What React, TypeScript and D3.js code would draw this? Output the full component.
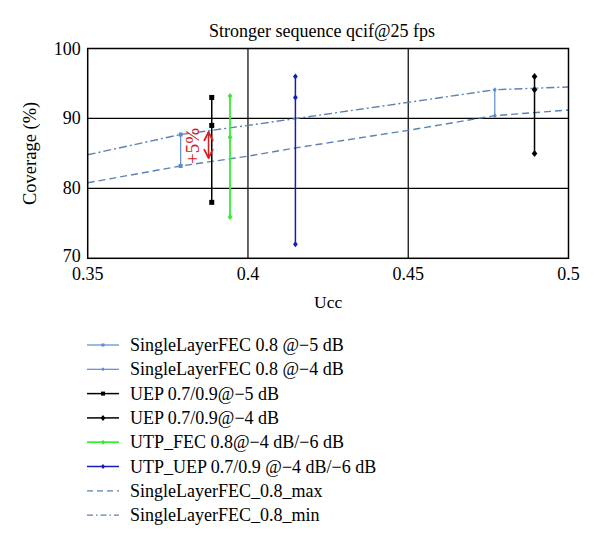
import React from "react";
import * as d3 from "d3";

const xTicks = [0.35, 0.4, 0.45, 0.5];
const yTicks = [70, 80, 90, 100];
const xTickLabels = ["0.35", "0.4", "0.45", "0.5"];

const slf5X = 0.379;
const slf5Y = [87.7, 83.2];
const slf4X = 0.477;
const slf4Y = [94.1, 90.4];
const uep5X = 0.3887;
const uep5Y = [93.0, 89.0, 78.0];
const uep4X = 0.4894;
const uep4Y = [96.0, 94.1, 85.0];
const utpFecX = 0.3944;
const utpFecY = [93.2, 87.3, 75.9];
const utpUepX = 0.4148;
const utpUepY = [96.0, 93.0, 72.0];

const maxX = [0.35, 0.379, 0.4, 0.415, 0.45, 0.477, 0.5];
const maxY = [80.8, 83.2, 84.6, 85.8, 88.3, 90.4, 91.2];
const minX = [0.35, 0.379, 0.4, 0.45, 0.477, 0.5];
const minY = [84.8, 87.7, 89.0, 92.3, 94.1, 94.5];

const arrowX = 0.3877;
const arrowY = [88.2, 84.2];

const legendLabels = [
  "SingleLayerFEC 0.8 @\u22125 dB",
  "SingleLayerFEC 0.8 @\u22124 dB",
  "UEP 0.7/0.9@\u22125 dB",
  "UEP 0.7/0.9@\u22124 dB",
  "UTP_FEC 0.8@\u22124 dB/\u22126 dB",
  "UTP_UEP 0.7/0.9 @\u22124 dB/\u22126 dB",
  "SingleLayerFEC_0.8_max",
  "SingleLayerFEC_0.8_min",
];

const LB = "#5b8bc9";
const DL = "#5a82b4";
const GR = "#33ee33";
const BL = "#1a1ab8";
const FONT = "'Liberation Serif', 'DejaVu Serif', serif";

type Marker = "square" | "diamond" | "dot";

export default function App() {
  const W = 600, H = 547;
  const L = 87.7, R = 568.5, T = 48.5, B = 258.3;
  const x = d3.scaleLinear().domain([0.35, 0.5]).range([L, R]);
  const y = d3.scaleLinear().domain([70, 100]).range([B, T]);
  const line = d3.line<[number, number]>().x((d) => x(d[0])).y((d) => y(d[1]));

  const series: { xv: number; ys: number[]; color: string; marker: Marker; size: number; w: number }[] = [
    { xv: slf5X, ys: slf5Y, color: LB, marker: "square", size: 4, w: 1.2 },
    { xv: slf4X, ys: slf4Y, color: LB, marker: "diamond", size: 4, w: 1.2 },
    { xv: uep5X, ys: uep5Y, color: "#000", marker: "square", size: 5, w: 1.5 },
    { xv: uep4X, ys: uep4Y, color: "#000", marker: "diamond", size: 6, w: 1.5 },
    { xv: utpFecX, ys: utpFecY, color: GR, marker: "diamond", size: 5, w: 1.8 },
    { xv: utpUepX, ys: utpUepY, color: BL, marker: "diamond", size: 5, w: 1.5 },
  ];

  const drawMarker = (m: Marker, cx: number, cy: number, s: number, c: string, k: string) => {
    if (m === "square")
      return <rect key={k} x={cx - s / 2} y={cy - s / 2} width={s} height={s} fill={c} />;
    if (m === "diamond") {
      const h = s / 2 + 0.5;
      return <path key={k} d={`M${cx},${cy - h}L${cx + h * 0.8},${cy}L${cx},${cy + h}L${cx - h * 0.8},${cy}Z`} fill={c} />;
    }
    return <circle key={k} cx={cx} cy={cy} r={s / 2} fill={c} />;
  };

  const legendX0 = 87, legendX1 = 119, legendTextX = 130, legendY0 = 345, legendDy = 24.3;

  return (
    <svg width={W} height={H} style={{ display: "block", position: "absolute", left: 0, top: 0, background: "#fff" }} fontFamily={FONT}>
      <rect x={0} y={0} width={W} height={H} fill="#fff" />
      <defs>
        <clipPath id="plot">
          <rect x={L} y={T} width={R - L} height={B - T} />
        </clipPath>
        <marker id="ah" viewBox="0 0 10 10" refX="9" refY="5" markerWidth="7" markerHeight="7" orient="auto-start-reverse">
          <path d="M1,1L9,5L1,9" fill="none" stroke="#d42020" strokeWidth={1.6} />
        </marker>
      </defs>
      <text x={322} y={37} textAnchor="middle" fontSize={18}>Stronger sequence qcif@25 fps</text>

      {/* grid */}
      {xTicks.slice(1, -1).map((t) => (
        <line key={"gx" + t} x1={x(t)} x2={x(t)} y1={T} y2={B} stroke="#000" strokeWidth={1.2} />
      ))}
      {yTicks.slice(1, -1).map((t) => (
        <line key={"gy" + t} x1={L} x2={R} y1={y(t)} y2={y(t)} stroke="#000" strokeWidth={1.2} />
      ))}

      <g clipPath="url(#plot)">
        <path d={line(maxX.map((v, i) => [v, maxY[i]]))!} fill="none" stroke={DL} strokeWidth={1.4} strokeDasharray="7,4" />
        <path d={line(minX.map((v, i) => [v, minY[i]]))!} fill="none" stroke={DL} strokeWidth={1.4} strokeDasharray="8,3,2,3" />
      </g>

      {series.map((s, i) => (
        <g key={"s" + i}>
          <path d={line(s.ys.map((v) => [s.xv, v]))!} fill="none" stroke={s.color} strokeWidth={s.w} />
          {s.ys.map((v, j) => drawMarker(s.marker, x(s.xv), y(v), s.size, s.color, "m" + i + j))}
        </g>
      ))}

      {/* +5% annotation */}
      <line x1={x(arrowX)} x2={x(arrowX)} y1={y(arrowY[0]) + 1} y2={y(arrowY[1]) - 1} stroke="#d42020" strokeWidth={1.6} markerStart="url(#ah)" markerEnd="url(#ah)" />
      <text transform={`translate(${x(arrowX) - 9.5},${y((arrowY[0] + arrowY[1]) / 2) + 1})rotate(-90)`} textAnchor="middle" fontSize={19} fill="#d42020">+5%</text>

      {/* frame */}
      <rect x={L} y={T} width={R - L} height={B - T} fill="none" stroke="#000" strokeWidth={1.5} />

      {/* tick labels */}
      {xTicks.map((t, i) => (
        <text key={"xt" + t} x={x(t)} y={B + 22} textAnchor="middle" fontSize={18}>{xTickLabels[i]}</text>
      ))}
      {yTicks.map((t) => (
        <text key={"yt" + t} x={L - 7} y={y(t) + (t === 70 ? 4 : 6)} textAnchor="end" fontSize={18}>{t}</text>
      ))}

      <text x={(L + R) / 2} y={308} textAnchor="middle" fontSize={17.5}>Ucc</text>
      <text transform={`translate(36,${(T + B) / 2})rotate(-90)`} textAnchor="middle" fontSize={18.5}>Coverage (%)</text>

      {/* legend */}
      {legendLabels.map((lab, i) => {
        const ly = legendY0 + i * legendDy;
        const mid = (legendX0 + legendX1) / 2;
        let sample: React.ReactNode;
        if (i < 6) {
          const s = series[i];
          sample = (
            <g>
              <line x1={legendX0} x2={legendX1} y1={ly} y2={ly} stroke={s.color} strokeWidth={s.w} />
              {drawMarker(s.marker, mid, ly, s.size - 1, s.color, "lm" + i)}
            </g>
          );
        } else {
          sample = (
            <line x1={legendX0} x2={legendX1} y1={ly} y2={ly} stroke={DL} strokeWidth={1.2} strokeDasharray={i === 6 ? "6,4" : "6,3,1.5,3"} />
          );
        }
        return (
          <g key={"lg" + i}>
            {sample}
            <text x={legendTextX} y={ly + 6} fontSize={18}>{lab}</text>
          </g>
        );
      })}
    </svg>
  );
}
